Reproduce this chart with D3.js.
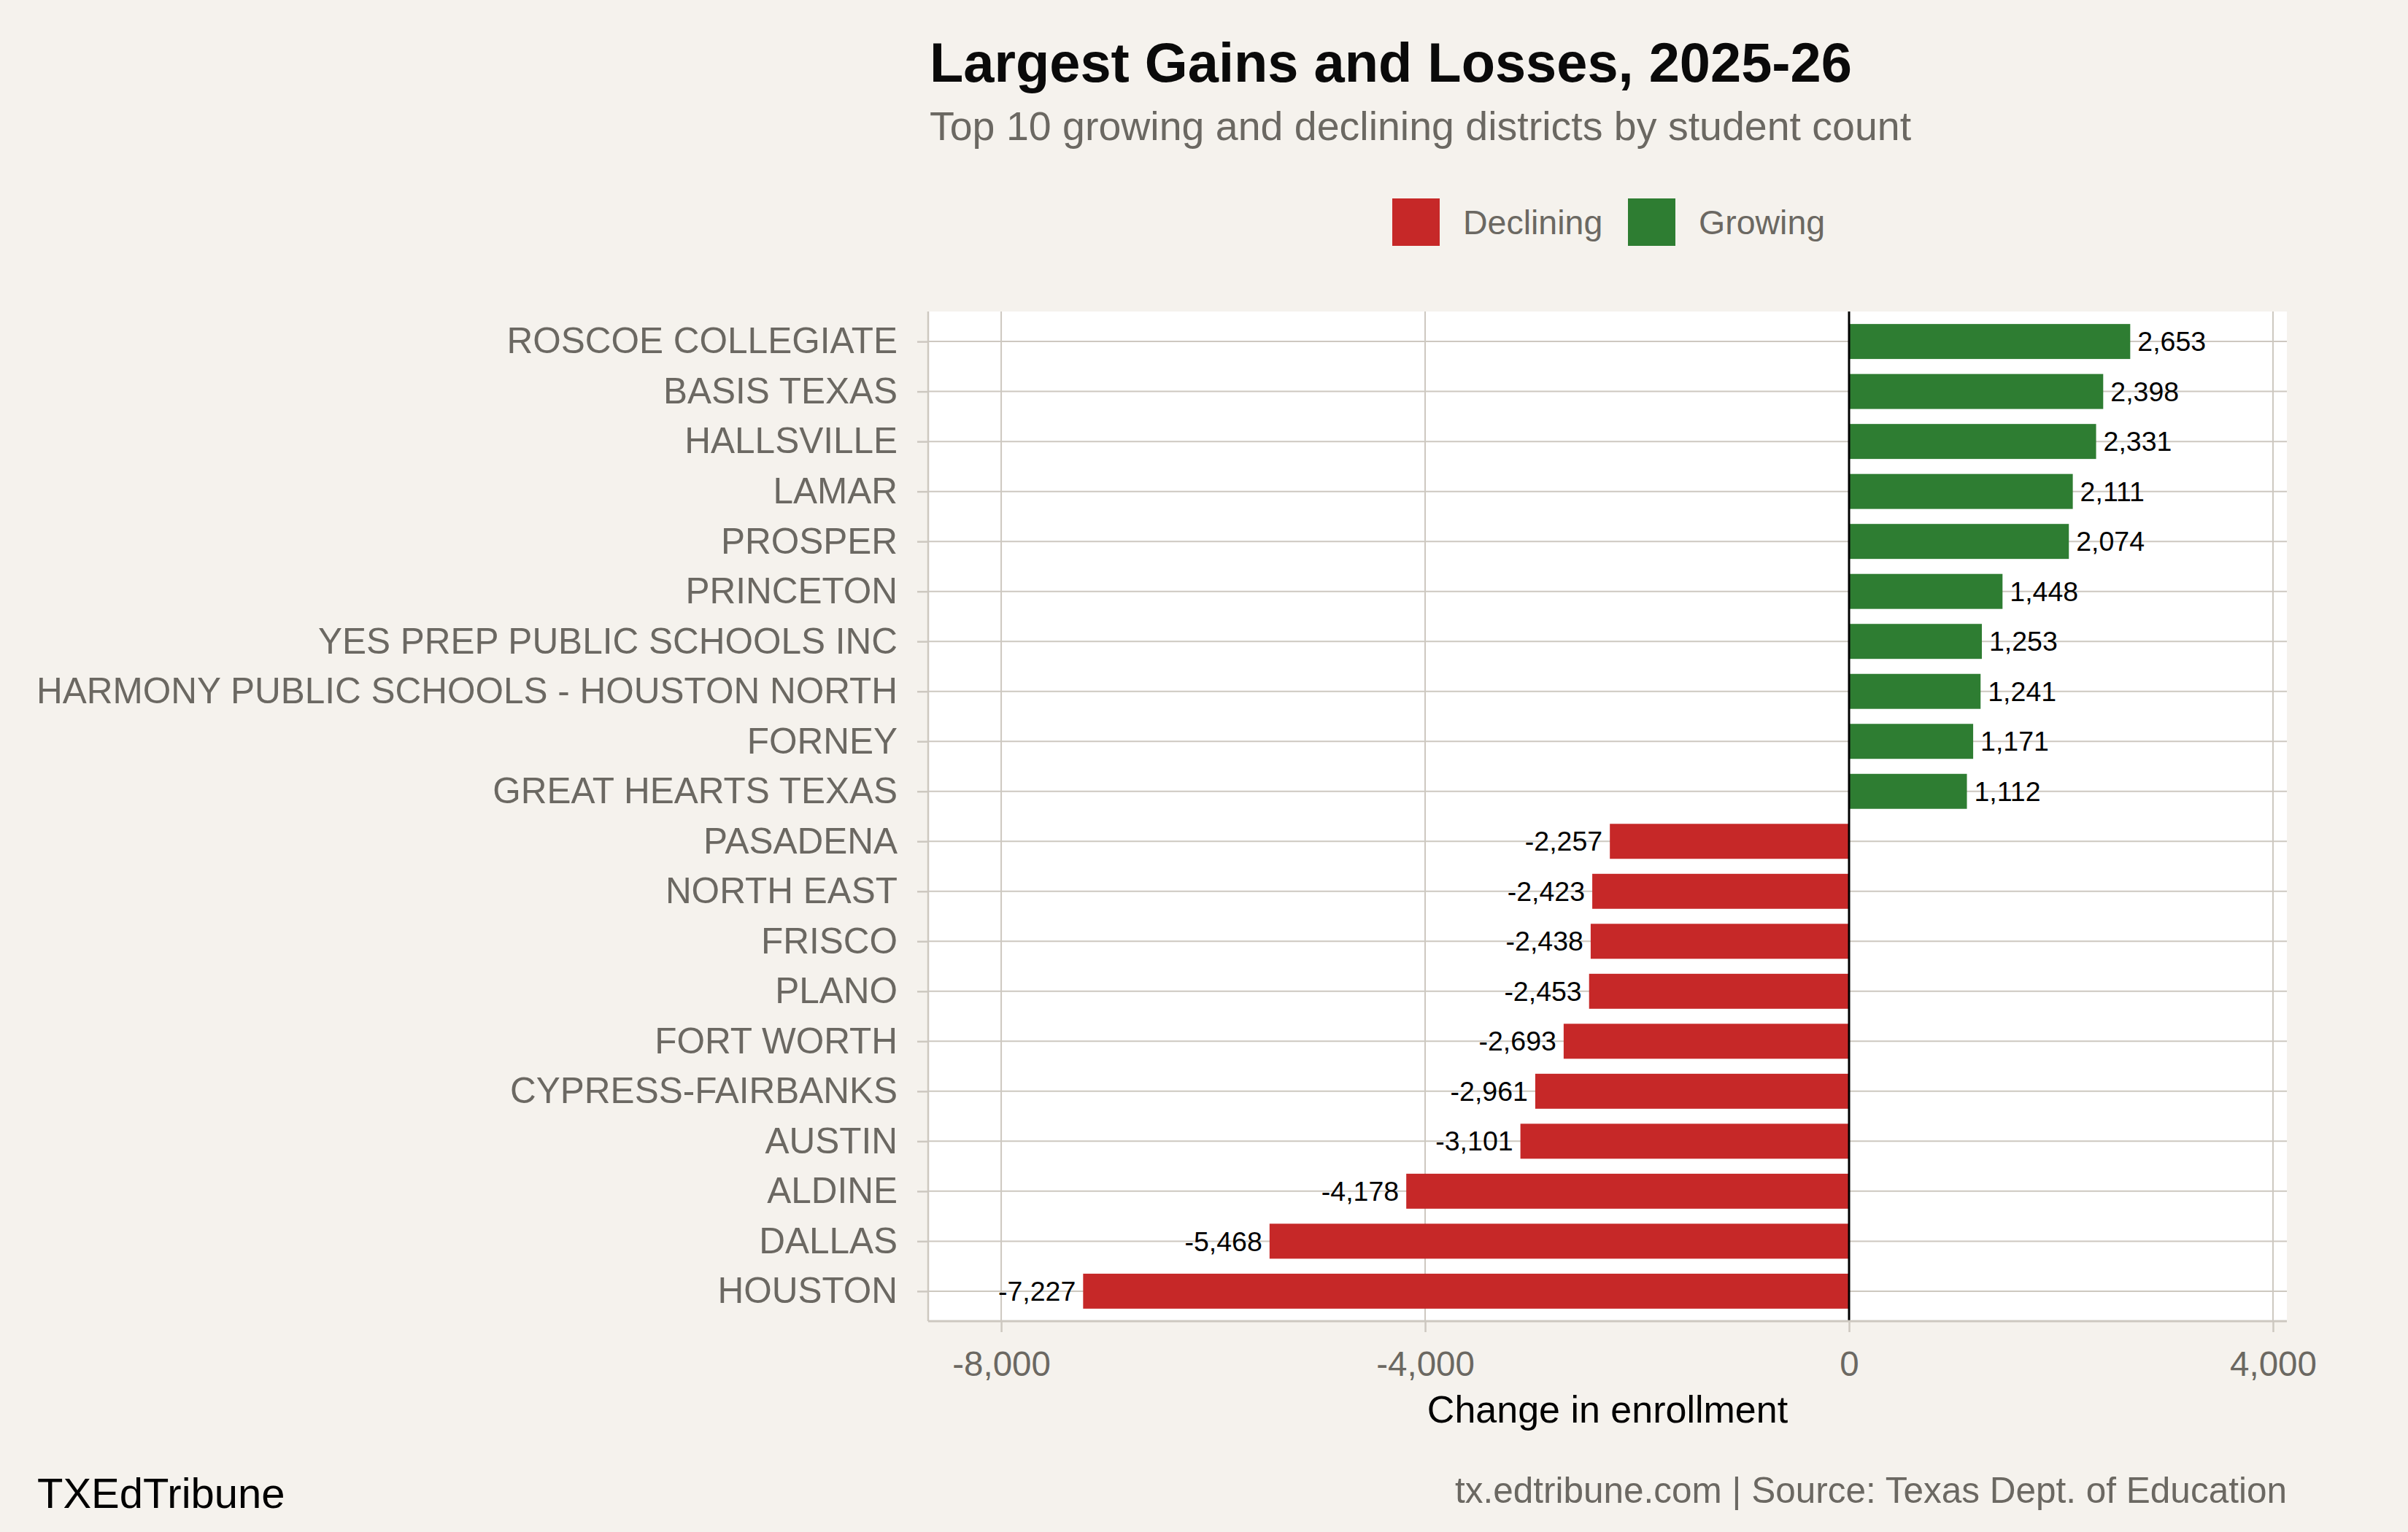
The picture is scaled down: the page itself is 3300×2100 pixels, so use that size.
<!DOCTYPE html>
<html>
<head>
<meta charset="utf-8">
<script src="https://cdn.jsdelivr.net/npm/d3@7"></script>
<style>
  html, body { margin: 0; padding: 0; background: #f5f2ed; }
  svg { display: block; }
  text { font-family: "Liberation Sans", Arial, Helvetica, sans-serif; }
</style>
</head>
<body>
<script>
// ---- data ----
const districts = [
  "ROSCOE COLLEGIATE", "BASIS TEXAS", "HALLSVILLE", "LAMAR", "PROSPER",
  "PRINCETON", "YES PREP PUBLIC SCHOOLS INC", "HARMONY PUBLIC SCHOOLS - HOUSTON NORTH",
  "FORNEY", "GREAT HEARTS TEXAS", "PASADENA", "NORTH EAST", "FRISCO", "PLANO",
  "FORT WORTH", "CYPRESS-FAIRBANKS", "AUSTIN", "ALDINE", "DALLAS", "HOUSTON"
];
const changes = [
  2653, 2398, 2331, 2111, 2074,
  1448, 1253, 1241,
  1171, 1112, -2257, -2423, -2438, -2453,
  -2693, -2961, -3101, -4178, -5468, -7227
];
const xTicks = [-8000, -4000, 0, 4000];
const legendLabels = ["Declining", "Growing"];
const titleText = "Largest Gains and Losses, 2025-26";
const subtitleText = "Top 10 growing and declining districts by student count";
const xTitleText = "Change in enrollment";
const captionText = "tx.edtribune.com | Source: Texas Dept. of Education";
const brandText = "TXEdTribune";

// ---- layout ----
const W = 3300, H = 2100;
const panel = { left: 1272, right: 3134, top: 427, bottom: 1811 };
const colors = { Declining: "#c62828", Growing: "#2e7d32" };
const grid = "#cdc8c0";
const gray = "#6b6862";

const svg = d3.select("body").append("svg").attr("width", W).attr("height", H);
svg.append("rect").attr("width", W).attr("height", H).attr("fill", "#f5f2ed");

const x = d3.scaleLinear().domain([-8689, 4131]).range([panel.left, panel.right]);
const y = d3.scalePoint().domain(districts).range([panel.top, panel.bottom]).padding(0.6);
const barH = y.step() * 0.7;

const data = districts.map((d, i) => ({ name: d, value: changes[i], type: changes[i] < 0 ? "Declining" : "Growing" }));

const comma = d3.format(",");
const fmt = v => comma(v).replace("\u2212", "-");

// panel background
svg.append("rect")
  .attr("x", panel.left).attr("y", panel.top)
  .attr("width", panel.right - panel.left).attr("height", panel.bottom - panel.top)
  .attr("fill", "#ffffff");

// gridlines
svg.append("g").selectAll("line").data(xTicks).join("line")
  .attr("x1", d => x(d)).attr("x2", d => x(d))
  .attr("y1", panel.top).attr("y2", panel.bottom)
  .attr("stroke", grid).attr("stroke-width", 2);
svg.append("g").selectAll("line").data(districts).join("line")
  .attr("x1", panel.left).attr("x2", panel.right)
  .attr("y1", d => y(d)).attr("y2", d => y(d))
  .attr("stroke", grid).attr("stroke-width", 2);

// bars
svg.append("g").selectAll("rect").data(data).join("rect")
  .attr("x", d => x(Math.min(0, d.value)))
  .attr("width", d => Math.abs(x(d.value) - x(0)))
  .attr("y", d => y(d.name) - barH / 2)
  .attr("height", barH)
  .attr("fill", d => colors[d.type]);

// zero line
svg.append("line")
  .attr("x1", x(0)).attr("x2", x(0))
  .attr("y1", panel.top).attr("y2", panel.bottom)
  .attr("stroke", "#000").attr("stroke-width", 3);

// value labels
svg.append("g").selectAll("text").data(data).join("text")
  .attr("x", d => d.value < 0 ? x(d.value) - 10 : x(d.value) + 10)
  .attr("y", d => y(d.name))
  .attr("dy", "0.35em")
  .attr("text-anchor", d => d.value < 0 ? "end" : "start")
  .attr("font-size", 37.5)
  .attr("fill", "#000")
  .text(d => fmt(d.value));

// y axis
const yAxis = svg.append("g")
  .attr("transform", `translate(${panel.left},0)`)
  .call(d3.axisLeft(y).tickSize(15).tickPadding(27));
yAxis.select(".domain").attr("stroke", grid).attr("stroke-width", 2.5)
  .attr("d", `M0,${panel.top}V${panel.bottom}`);
yAxis.selectAll(".tick line").attr("stroke", grid).attr("stroke-width", 2.5);
yAxis.selectAll(".tick text").attr("font-size", 49.5).attr("fill", gray)
  .attr("font-family", '"Liberation Sans", Arial, sans-serif');

// x axis
const xAxis = svg.append("g")
  .attr("transform", `translate(0,${panel.bottom})`)
  .call(d3.axisBottom(x).tickValues(xTicks).tickFormat(fmt).tickSize(15).tickPadding(26));
xAxis.select(".domain").attr("stroke", grid).attr("stroke-width", 3)
  .attr("d", `M${panel.left},0H${panel.right}`);
xAxis.selectAll(".tick line").attr("stroke", grid).attr("stroke-width", 2.5);
xAxis.selectAll(".tick text").attr("font-size", 47.5).attr("fill", gray)
  .attr("font-family", '"Liberation Sans", Arial, sans-serif');

// x axis title
svg.append("text")
  .attr("x", (panel.left + panel.right) / 2).attr("y", 1950)
  .attr("text-anchor", "middle").attr("font-size", 52).attr("fill", "#000")
  .text(xTitleText);

// title & subtitle
svg.append("text")
  .attr("x", 1274).attr("y", 112)
  .attr("font-size", 75.8).attr("font-weight", "bold").attr("fill", "#0a0a0a")
  .text(titleText);
svg.append("text")
  .attr("x", 1274).attr("y", 192)
  .attr("font-size", 55.5).attr("fill", gray)
  .text(subtitleText);

// legend
const legendX = [1908, 2231];
const lg = svg.append("g");
legendLabels.forEach((lab, i) => {
  lg.append("rect")
    .attr("x", legendX[i]).attr("y", 272).attr("width", 65).attr("height", 65)
    .attr("fill", colors[lab]);
  lg.append("text")
    .attr("x", legendX[i] + 97).attr("y", 321)
    .attr("font-size", 46.5).attr("fill", gray)
    .text(lab);
});

// caption
svg.append("text")
  .attr("x", panel.right).attr("y", 2060)
  .attr("text-anchor", "end").attr("font-size", 49.5).attr("fill", gray)
  .text(captionText);
svg.append("text")
  .attr("x", 51).attr("y", 2067)
  .attr("font-size", 58).attr("fill", "#000")
  .text(brandText);
</script>
</body>
</html>
